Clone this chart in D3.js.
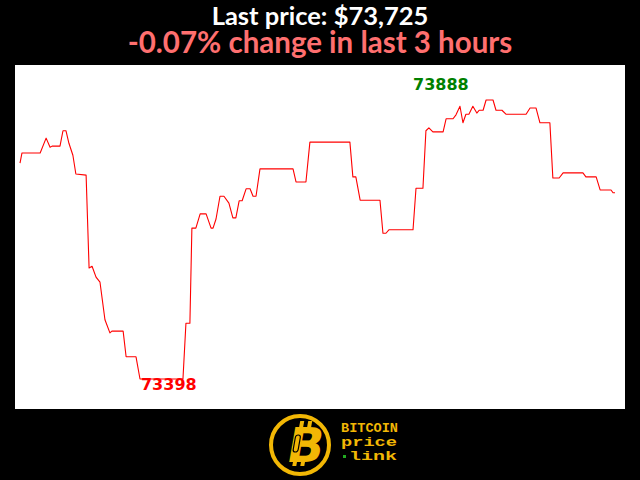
<!DOCTYPE html>
<html>
<head>
<meta charset="utf-8">
<script src="https://cdn.jsdelivr.net/npm/d3@7/dist/d3.min.js"></script>
<style>
  html, body { margin: 0; padding: 0; background: #000; }
  svg { display: block; }
</style>
</head>
<body>
<script>
// ---- data ----
const titleLine1 = "Last price: $73,725";
const titleLine2 = "-0.07% change in last 3 hours";
// minutes since start of the 3-hour window
const minutes = [0, 0.6, 6.1, 7.9, 9.1, 9.7, 12.1, 13.0, 13.9, 14.8, 16.0, 16.9, 20.0, 20.9, 21.8, 23.0, 24.2, 25.7, 27.2, 27.8,
  31.2, 32.1, 35.1, 36.3, 49.3, 50.2, 51.4, 52.0, 53.2, 54.5, 56.3, 57.8, 58.4, 59.3, 60.5, 61.7, 63.2, 64.4, 65.3, 66.3,
  67.2, 68.4, 69.6, 70.5, 71.4, 72.6, 82.6, 83.5, 86.5, 87.7, 99.8, 100.7, 101.6, 102.9, 108.9, 109.8, 110.7, 111.6, 118.9, 119.8,
  121.9, 122.8, 123.7, 124.9, 128.0, 128.9, 131.0, 131.9, 133.1, 134.0, 134.9, 135.8, 137.0, 138.2, 138.9, 140.1, 141.0, 143.1, 144.0, 145.8,
  147.0, 153.1, 154.3, 156.1, 157.3, 160.3, 161.2, 163.1, 164.3, 170.3, 171.2, 174.3, 175.5, 178.8, 179.4, 180];
const prices = [73777, 73795, 73795, 73821, 73805, 73807, 73807, 73834, 73834, 73812, 73791, 73758, 73756, 73593, 73596, 73577, 73568, 73502, 73479, 73482,
  73482, 73437, 73437, 73398, 73398, 73496, 73496, 73663, 73663, 73688, 73688, 73663, 73663, 73679, 73719, 73719, 73707, 73681, 73681, 73711,
  73711, 73732, 73732, 73719, 73719, 73767, 73767, 73744, 73744, 73814, 73814, 73753, 73753, 73712, 73712, 73654, 73654, 73660, 73660, 73733,
  73733, 73834, 73839, 73832, 73832, 73855, 73855, 73862, 73877, 73848, 73863, 73863, 73877, 73865, 73870, 73870, 73888, 73888, 73870, 73870,
  73863, 73863, 73874, 73874, 73848, 73848, 73751, 73751, 73760, 73760, 73753, 73753, 73730, 73730, 73725, 73725];
const logoLines = ["BITCOIN", "price", "link"];

const data = minutes.map((m, i) => ({ t: m, p: prices[i] }));
const W = 640, H = 480;
const svg = d3.select("body").append("svg").attr("width", W).attr("height", H);
svg.append("rect").attr("width", W).attr("height", H).attr("fill", "#000");

// titles
svg.append("text").attr("x", 320).attr("y", 25).attr("text-anchor", "middle")
  .attr("font-family", "Lato").attr("font-weight", "bold").attr("font-size", 25.5)
  .attr("fill", "#fff").text(titleLine1);
svg.append("text").attr("x", 320).attr("y", 53).attr("text-anchor", "middle")
  .attr("font-family", "Lato").attr("font-weight", "bold").attr("font-size", 29.5)
  .attr("fill", "#ff6f6f").text(titleLine2);

// plot area
svg.append("rect").attr("x", 15).attr("y", 65).attr("width", 610).attr("height", 344).attr("fill", "#fff");

const maxP = d3.max(prices), minP = d3.min(prices);
const x = d3.scaleLinear().domain([0, 180]).range([20, 615]);
const y = d3.scaleLinear().domain([minP, maxP]).range([379, 100]);

svg.append("path").datum(data)
  .attr("fill", "none").attr("stroke", "#ff0000").attr("stroke-width", 1.1)
  .attr("stroke-linejoin", "round")
  .attr("d", d3.line().x(d => x(d.t)).y(d => y(d.p)));

const maxD = data.find(d => d.p === maxP);
const minD = data.find(d => d.p === minP);
svg.append("text").attr("x", x(maxD.t) - 73).attr("y", y(maxP) - 10)
  .attr("font-family", "DejaVu Sans").attr("font-weight", "bold").attr("font-size", 16)
  .attr("fill", "#008000").text(maxP);
svg.append("text").attr("x", x(minD.t) + 1).attr("y", y(minP) + 11)
  .attr("font-family", "DejaVu Sans").attr("font-weight", "bold").attr("font-size", 16)
  .attr("fill", "#ff0000").text(minP);

// logo
const gold = "#f2b705";
const lg = svg.append("g");
lg.append("circle").attr("cx", 300).attr("cy", 445).attr("r", 29).attr("fill", "#000")
  .attr("stroke", gold).attr("stroke-width", 4);
const bg = lg.append("g").attr("transform", "translate(303,462) skewX(-10)");
bg.append("rect").attr("x", -10).attr("y", -41).attr("width", 4).attr("height", 6).attr("fill", gold);
bg.append("rect").attr("x", -2).attr("y", -41).attr("width", 4).attr("height", 6).attr("fill", gold);
bg.append("rect").attr("x", -10).attr("y", -2).attr("width", 4).attr("height", 6).attr("fill", gold);
bg.append("rect").attr("x", -2).attr("y", -2).attr("width", 4).attr("height", 6).attr("fill", gold);
bg.append("text").attr("x", 0).attr("y", 0).attr("text-anchor", "middle")
  .attr("font-family", "DejaVu Sans").attr("font-weight", "bold").attr("font-size", 48)
  .attr("fill", gold).text("B");
bg.append("rect").attr("x", -12).attr("y", -27).attr("width", 5).attr("height", 17).attr("rx", 2.5)
  .attr("fill", "none").attr("stroke", "#000").attr("stroke-width", 1.2);

const tl = [[341, 432, 57], [341, 446, 56], [349, 460, 48]];
logoLines.forEach((s, i) => {
  lg.append("text").attr("x", tl[i][0]).attr("y", tl[i][1])
    .attr("font-family", "Liberation Mono").attr("font-weight", "bold").attr("font-size", 13)
    .attr("textLength", tl[i][2]).attr("lengthAdjust", "spacingAndGlyphs")
    .attr("fill", gold).text(s);
});
lg.append("rect").attr("x", 343).attr("y", 455).attr("width", 3).attr("height", 3).attr("fill", "#22aa22");
</script>
</body>
</html>
